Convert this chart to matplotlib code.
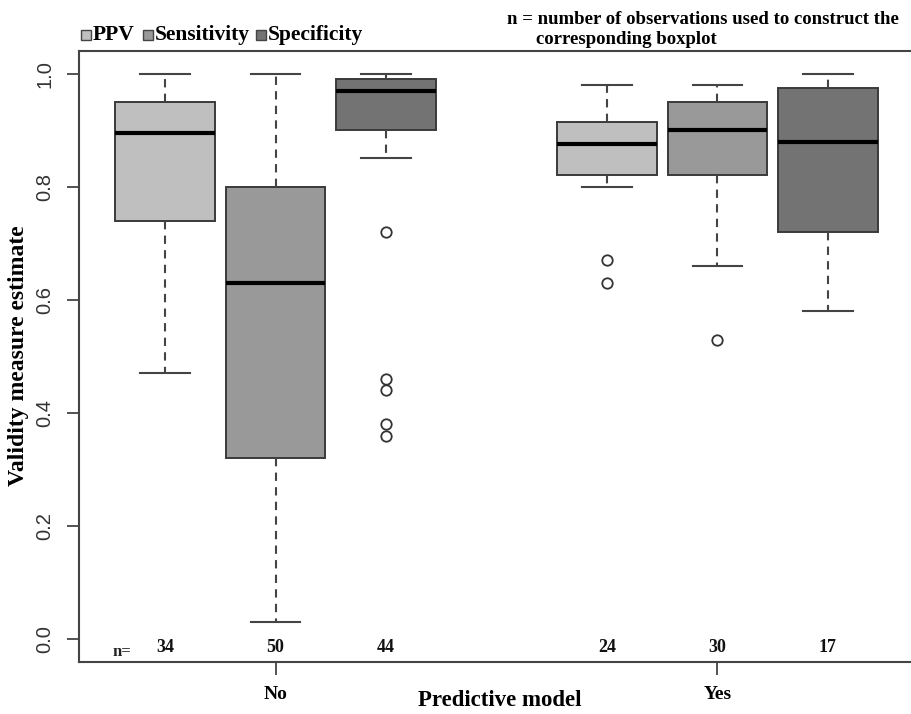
import matplotlib
matplotlib.use("Agg")
import matplotlib.pyplot as plt
from matplotlib.patches import Rectangle

# ---- data ----
groups = ["No", "Yes"]
measures = ["PPV", "Sensitivity", "Specificity"]
positions = [1, 2, 3, 5, 6, 7]
whislo = [0.47, 0.03, 0.85, 0.80, 0.66, 0.58]
q1     = [0.74, 0.32, 0.90, 0.82, 0.82, 0.72]
med    = [0.895, 0.63, 0.97, 0.875, 0.90, 0.88]
q3     = [0.95, 0.80, 0.99, 0.915, 0.95, 0.975]
whishi = [1.00, 1.00, 1.00, 0.98, 0.98, 1.00]
fliers = [[], [], [0.72, 0.46, 0.44, 0.38, 0.36], [0.67, 0.63], [0.53], []]
n_obs = [34, 50, 44, 24, 30, 17]
colors = ["#bfbfbf", "#999999", "#737373"]

serif = ["Liberation Serif", "DejaVu Serif"]
sans = ["Liberation Sans", "DejaVu Sans"]

fig = plt.figure(figsize=(9.12, 7.14), dpi=100)
W, H = 912, 714
ax = fig.add_axes([79 / W, 1 - 662 / H, (914 - 79) / W, (662 - 51) / H])

stats = []
for i in range(len(positions)):
    stats.append(dict(med=med[i], q1=q1[i], q3=q3[i], whislo=whislo[i],
                      whishi=whishi[i], fliers=fliers[i]))

edge = "#3a3a3a"
bp = ax.bxp(stats, positions=positions, widths=0.9, patch_artist=True,
            showfliers=True,
            boxprops=dict(edgecolor=edge, linewidth=1.4),
            medianprops=dict(color="black", linewidth=3.0, solid_capstyle="butt"),
            whiskerprops=dict(color="#444444", linewidth=1.5, linestyle=(0, (4, 3))),
            capprops=dict(color="#444444", linewidth=1.5),
            capwidths=0.45,
            flierprops=dict(marker="o", markersize=7.5, markerfacecolor="none",
                            markeredgecolor="#333333", markeredgewidth=1.3))
for i, b in enumerate(bp["boxes"]):
    b.set_facecolor(colors[i % 3])

ax.set_xlim(0.22, 7.78)
ax.set_ylim(-0.04, 1.04)

ax.set_yticks([0.0, 0.2, 0.4, 0.6, 0.8, 1.0])
ax.set_yticklabels(["0.0", "0.2", "0.4", "0.6", "0.8", "1.0"], rotation=90,
                   va="center", family=sans, fontsize=14.5, color="#333333")
ax.set_xticks([2, 6])
ax.set_xticklabels(groups, family=serif, fontsize=14, fontweight="bold")
ax.tick_params(axis="y", length=9, width=1.3, color="#444444", pad=9)
ax.tick_params(axis="x", length=9, width=1.3, color="#444444", pad=8)

for s in ax.spines.values():
    s.set_color("#444444")
    s.set_linewidth(1.5)

fig.text(19 / W, 1 - 356 / H, "Validity measure estimate", family=serif,
         fontsize=17, fontweight="bold", rotation=90, ha="center", va="center")
fig.text(500 / W, 1 - 701 / H, "Predictive model", family=serif, fontsize=16.5,
         fontweight="bold", ha="center", va="center")

# n labels
ax.text(0.61, -0.022, "n=", family=serif, fontsize=12, fontweight="bold",
        ha="center", va="center", color="#222222")
for p, n in zip(positions, n_obs):
    ax.text(p, -0.015, str(n), family=serif, fontsize=13, fontweight="bold",
            ha="center", va="center", color="#111111")

# legend (squares + text) at top-left
leg_x = [81, 143, 256]
for lx, lab, c in zip(leg_x, measures, colors):
    fig.patches.append(Rectangle((lx / W, 1 - 40 / H), 10 / W, 10 / H,
                                 transform=fig.transFigure, facecolor=c,
                                 edgecolor="#444444", linewidth=1.0))
    fig.text((lx + 12) / W, 1 - 35 / H, lab, family=serif, fontsize=15.5,
             fontweight="bold", ha="left", va="center")

fig.text(507 / W, 1 - 20 / H, "n = number of observations used to construct the",
         family=serif, fontsize=13.5, fontweight="bold", ha="left", va="center")
fig.text(536 / W, 1 - 39 / H, "corresponding boxplot",
         family=serif, fontsize=13.5, fontweight="bold", ha="left", va="center")

fig.savefig("out.png", dpi=100)
